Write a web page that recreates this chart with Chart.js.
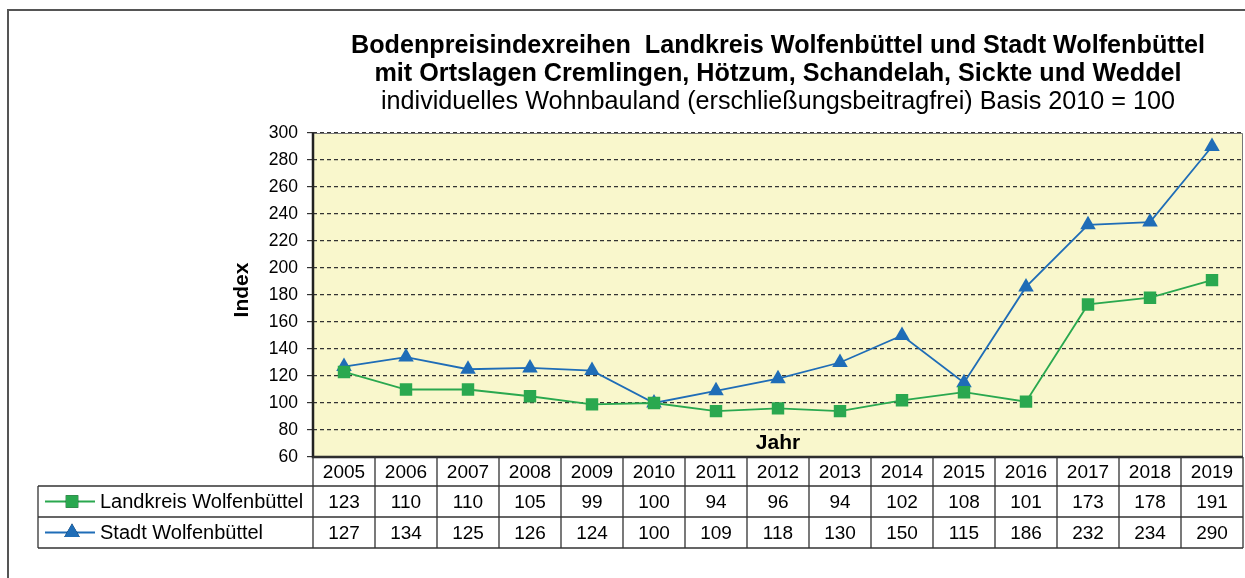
<!DOCTYPE html>
<html>
<head>
<meta charset="utf-8">
<script src="https://cdn.jsdelivr.net/npm/chart.js@4.4.1/dist/chart.umd.min.js"></script>
<style>
  html, body { margin: 0; padding: 0; background: #fff; }
  #wrap { position: relative; width: 1245px; height: 578px; }
</style>
</head>
<body>
<div id="wrap"><canvas id="graph" width="1245" height="578"></canvas></div>
<script>
// data
const years = ['2005', '2006', '2007', '2008', '2009', '2010', '2011', '2012', '2013', '2014', '2015', '2016', '2017', '2018', '2019'];
const landkreis = [123, 110, 110, 105, 99, 100, 94, 96, 94, 102, 108, 101, 173, 178, 191];
const stadt = [127, 134, 125, 126, 124, 100, 109, 118, 130, 150, 115, 186, 232, 234, 290];
const seriesNames = ['Landkreis Wolfenbüttel', 'Stadt Wolfenbüttel'];
const titleLines = [
    'Bodenpreisindexreihen  Landkreis Wolfenbüttel und Stadt Wolfenbüttel',
    'mit Ortslagen Cremlingen, Hötzum, Schandelah, Sickte und Weddel',
    'individuelles Wohnbauland (erschließungsbeitragfrei) Basis 2010 = 100'
];

const green = '#2aa84f';
const blue = '#1f6db7';
const FONT = '"Liberation Sans", Arial, sans-serif';

// frame, titles, plot background, and the data table under the x axis
const decor = {
    id: 'decor',
    beforeDraw(chart) {
        const ctx = chart.ctx;
        const a = chart.chartArea;
        ctx.save();
        ctx.fillStyle = '#f9f7cc';
        ctx.fillRect(a.left, a.top, a.right - a.left, a.bottom - a.top);
        // outer frame
        ctx.strokeStyle = '#555';
        ctx.lineWidth = 2;
        ctx.strokeRect(8, 10, 1260, 600);
        ctx.restore();
    },
    afterDraw(chart) {
        const ctx = chart.ctx;
        const a = chart.chartArea;
        const x = chart.scales.x;
        const mid = (a.left + a.right) / 2;
        ctx.save();

        // titles
        ctx.fillStyle = '#000';
        ctx.textAlign = 'center';
        ctx.textBaseline = 'middle';
        ctx.font = 'bold 25.2px ' + FONT;
        ctx.fillText(titleLines[0], mid, 46);
        ctx.fillText(titleLines[1], mid, 74);
        ctx.font = '25.2px ' + FONT;
        ctx.fillText(titleLines[2], mid, 102);

        // axis titles
        ctx.font = 'bold 21px ' + FONT;
        ctx.fillText('Jahr', mid, 443);
        ctx.save();
        ctx.translate(242, 290);
        ctx.rotate(-Math.PI / 2);
        ctx.fillText('Index', 0, 0);
        ctx.restore();

        // plot border
        ctx.strokeStyle = '#777';
        ctx.lineWidth = 1;
        ctx.beginPath();
        ctx.moveTo(a.left, a.top + 0.5);
        ctx.lineTo(a.right - 0.5, a.top + 0.5);
        ctx.lineTo(a.right - 0.5, a.bottom);
        ctx.stroke();
        ctx.strokeStyle = '#222';
        ctx.lineWidth = 2.5;
        ctx.beginPath();
        ctx.moveTo(a.left, a.top);
        ctx.lineTo(a.left, a.bottom);
        ctx.lineTo(a.right, a.bottom);
        ctx.stroke();

        // data table
        const half = (x.getPixelForValue(1) - x.getPixelForValue(0)) / 2;
        const rowY = [a.bottom, a.bottom + 29, a.bottom + 60, a.bottom + 91];
        const legLeft = 38;
        ctx.strokeStyle = '#333';
        ctx.lineWidth = 1.3;
        ctx.beginPath();
        ctx.moveTo(a.left, rowY[0]); ctx.lineTo(a.right, rowY[0]);
        for (let r = 1; r < 4; r++) {
            ctx.moveTo(legLeft, rowY[r]); ctx.lineTo(a.right, rowY[r]);
        }
        ctx.moveTo(legLeft, rowY[1]); ctx.lineTo(legLeft, rowY[3]);
        for (let i = 0; i <= years.length; i++) {
            const px = i < years.length ? x.getPixelForValue(i) - half : x.getPixelForValue(years.length - 1) + half;
            ctx.moveTo(px, rowY[0]); ctx.lineTo(px, rowY[3]);
        }
        ctx.stroke();

        ctx.font = '19px ' + FONT;
        ctx.fillStyle = '#000';
        const rows = [years, landkreis, stadt];
        rows.forEach((row, r) => {
            const cy = (rowY[r] + rowY[r + 1]) / 2 + 1;
            row.forEach((v, i) => ctx.fillText(String(v), x.getPixelForValue(i), cy));
        });

        // legend entries in the table
        ctx.textAlign = 'left';
        ctx.font = '20px ' + FONT;
        chart.data.datasets.forEach((ds, r) => {
            const cy = (rowY[r + 1] + rowY[r + 2]) / 2;
            ctx.strokeStyle = ds.borderColor;
            ctx.lineWidth = 1.8;
            ctx.beginPath();
            ctx.moveTo(45, cy); ctx.lineTo(95, cy);
            ctx.stroke();
            Chart.helpers.drawPoint(ctx, { pointStyle: ds.pointStyle, radius: ds.pointRadius, borderWidth: 0 }, 72, cy);
            ctx.fillStyle = ds.backgroundColor;
            ctx.fill();
            ctx.fillStyle = '#000';
            ctx.fillText(ds.label, 100, cy + 1);
        });
        ctx.restore();
    }
};

new Chart(document.getElementById('graph'), {
    type: 'line',
    data: {
        labels: years,
        datasets: [
            {
                label: seriesNames[0], data: landkreis,
                borderColor: green, backgroundColor: green, borderWidth: 1.8,
                pointStyle: 'rect', pointRadius: 8.8, pointBorderWidth: 0, tension: 0
            },
            {
                label: seriesNames[1], data: stadt,
                borderColor: blue, backgroundColor: blue, borderWidth: 1.8,
                pointStyle: 'triangle', pointRadius: 9, pointBorderWidth: 0, tension: 0
            }
        ]
    },
    options: {
        responsive: false,
        animation: false,
        layout: { autoPadding: false, padding: { left: 0, top: 133, right: 2, bottom: 121 } },
        plugins: { legend: { display: false }, title: { display: false }, tooltip: { enabled: false } },
        scales: {
            x: { type: 'category', offset: true, display: false },
            y: {
                min: 60, max: 300,
                afterFit(scale) { scale.width = 313; },
                border: { display: false, dash: [4, 3] },
                grid: {
                    color: '#333', lineWidth: 1.2,
                    tickLength: 6, tickColor: '#333', tickBorderDash: [], tickWidth: 1.2
                },
                ticks: { stepSize: 20, color: '#000', padding: 9, font: { family: FONT, size: 17.5 } }
            }
        }
    },
    plugins: [decor]
});
</script>
</body>
</html>
